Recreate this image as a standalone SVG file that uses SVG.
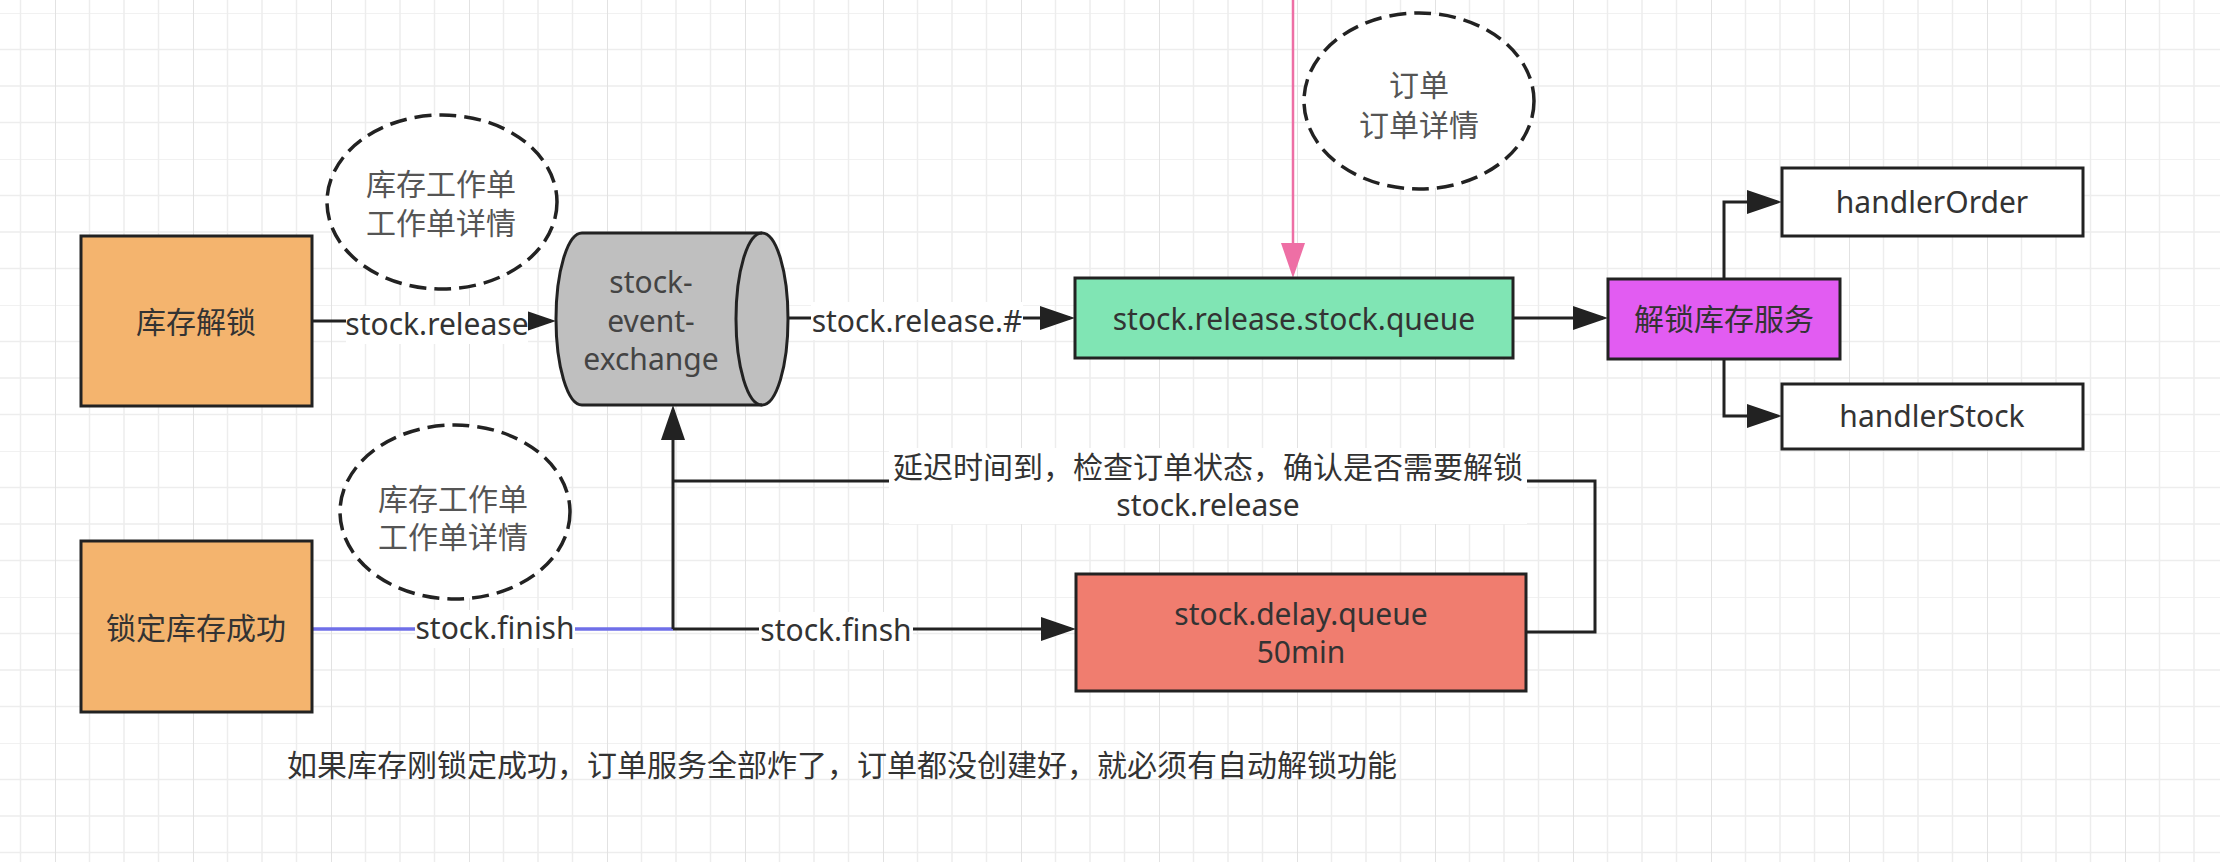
<svg xmlns="http://www.w3.org/2000/svg" width="2220" height="862" viewBox="0 0 2220 862">
<defs>
<pattern id="grid" x="55" y="13" width="138" height="146" patternUnits="userSpaceOnUse">
<path d="M34.5 0V146M69 0V146M103.5 0V146M0 0H138M0 36.5H138M0 73H138M0 109.5H138" stroke="#ededed" stroke-width="1.5" fill="none"/>
<path d="M0 0V146" stroke="#e2e2e2" stroke-width="2" fill="none"/>
</pattern>
<marker id="arr" markerUnits="userSpaceOnUse" markerWidth="36" markerHeight="26" refX="30" refY="12" orient="auto" viewBox="0 0 36 26">
<path d="M0 0L35 12L0 24Z" fill="#222"/>
</marker>
<marker id="arrPink" markerUnits="userSpaceOnUse" markerWidth="36" markerHeight="26" refX="30" refY="12" orient="auto" viewBox="0 0 36 26">
<path d="M0 0L35 12L0 24Z" fill="#EE6FA5"/>
</marker>
</defs>
<style>
text{font-family:"Noto Sans","Noto Sans CJK SC",sans-serif;font-size:30px;fill:#333;text-anchor:middle}
.box{stroke:#222;stroke-width:3}
.cloud{fill:#fff;stroke:#222;stroke-width:3.5;stroke-dasharray:17 8}
.cloud-t{fill:#555}
.edge{fill:none;stroke:#222;stroke-width:3}
.lbl{fill:#fff}
</style>
<rect width="2220" height="862" fill="#fff"/>
<rect width="2220" height="862" fill="url(#grid)"/>

<g id="connectors">
<path class="edge" d="M312 321H551" marker-end="url(#arr)"/>
<path class="edge" d="M788 318H1070" marker-end="url(#arr)"/>
<path class="edge" d="M1513 318H1603" marker-end="url(#arr)"/>
<path class="edge" d="M1724 279V202H1777" marker-end="url(#arr)"/>
<path class="edge" d="M1724 359V416H1777" marker-end="url(#arr)"/>
<path d="M1293 0V273" fill="none" stroke="#EE6FA5" stroke-width="2.5" marker-end="url(#arrPink)"/>
<path d="M312 629H673" fill="none" stroke="#6F6FE8" stroke-width="3.5"/>
<path class="edge" d="M673 629V410" marker-end="url(#arr)"/>
<path class="edge" d="M673 629H1071" marker-end="url(#arr)"/>
<path class="edge" d="M1526 632H1595V481H673"/>
<rect class="lbl" x="346" y="306" width="182" height="38"/>
<text x="437" y="335">stock.release</text>
<rect class="lbl" x="811" y="302" width="212" height="38"/>
<text x="917" y="332">stock.release.#</text>
<rect class="lbl" x="415" y="610" width="160" height="38"/>
<text x="495" y="639">stock.finish</text>
<rect class="lbl" x="759" y="612" width="154" height="38"/>
<text x="836" y="641">stock.finsh</text>
<rect class="lbl" x="889" y="448" width="638" height="76"/>
<text x="1208" y="478">延迟时间到，检查订单状态，确认是否需要解锁</text>
<text x="1208" y="516">stock.release</text>
</g>

<g id="n-kucun-jiesuo">
<rect class="box" x="81" y="236" width="231" height="170" fill="#F4B46E"/>
<text x="196" y="333">库存解锁</text>
</g>
<g id="n-suoding">
<rect class="box" x="81" y="541" width="231" height="171" fill="#F4B46E"/>
<text x="196" y="639">锁定库存成功</text>
</g>
<g id="n-cloud-a">
<ellipse class="cloud" cx="442" cy="202" rx="115" ry="87"/>
<text class="cloud-t" x="441" y="195">库存工作单</text>
<text class="cloud-t" x="441" y="234">工作单详情</text>
</g>
<g id="n-cloud-b">
<ellipse class="cloud" cx="455" cy="512" rx="115" ry="87"/>
<text class="cloud-t" x="453" y="510">库存工作单</text>
<text class="cloud-t" x="453" y="548">工作单详情</text>
</g>
<g id="n-cloud-c">
<ellipse class="cloud" cx="1419" cy="101" rx="115" ry="88"/>
<text class="cloud-t" x="1419" y="96">订单</text>
<text class="cloud-t" x="1419" y="136">订单详情</text>
</g>
<g id="n-exchange">
<path class="box" d="M582 233H762A26 86 0 0 1 762 405H582A26 86 0 0 1 582 233Z" fill="#BFBFBF"/>
<path d="M762 233A26 86 0 0 0 762 405" fill="none" stroke="#222" stroke-width="3"/>
<text x="651" y="293" style="fill:#444">stock-</text>
<text x="651" y="332" style="fill:#444">event-</text>
<text x="651" y="370" style="fill:#444">exchange</text>
</g>
<g id="n-release-queue">
<rect class="box" x="1075" y="278" width="438" height="80" fill="#80E5B4"/>
<text x="1294" y="330">stock.release.stock.queue</text>
</g>
<g id="n-unlock-service">
<rect class="box" x="1608" y="279" width="232" height="80" fill="#E25CF2"/>
<text x="1724" y="330">解锁库存服务</text>
</g>
<g id="n-handler-order">
<rect class="box" x="1782" y="168" width="301" height="68" fill="#fff"/>
<text x="1932" y="213">handlerOrder</text>
</g>
<g id="n-handler-stock">
<rect class="box" x="1782" y="384" width="301" height="65" fill="#fff"/>
<text x="1932" y="427">handlerStock</text>
</g>
<g id="n-delay-queue">
<rect class="box" x="1076" y="574" width="450" height="117" fill="#F07D6F"/>
<text x="1301" y="625">stock.delay.queue</text>
<text x="1301" y="663">50min</text>
</g>
<g id="n-note">
<text x="287" y="776" style="text-anchor:start">如果库存刚锁定成功，订单服务全部炸了，订单都没创建好，就必须有自动解锁功能</text>
</g>
</svg>
